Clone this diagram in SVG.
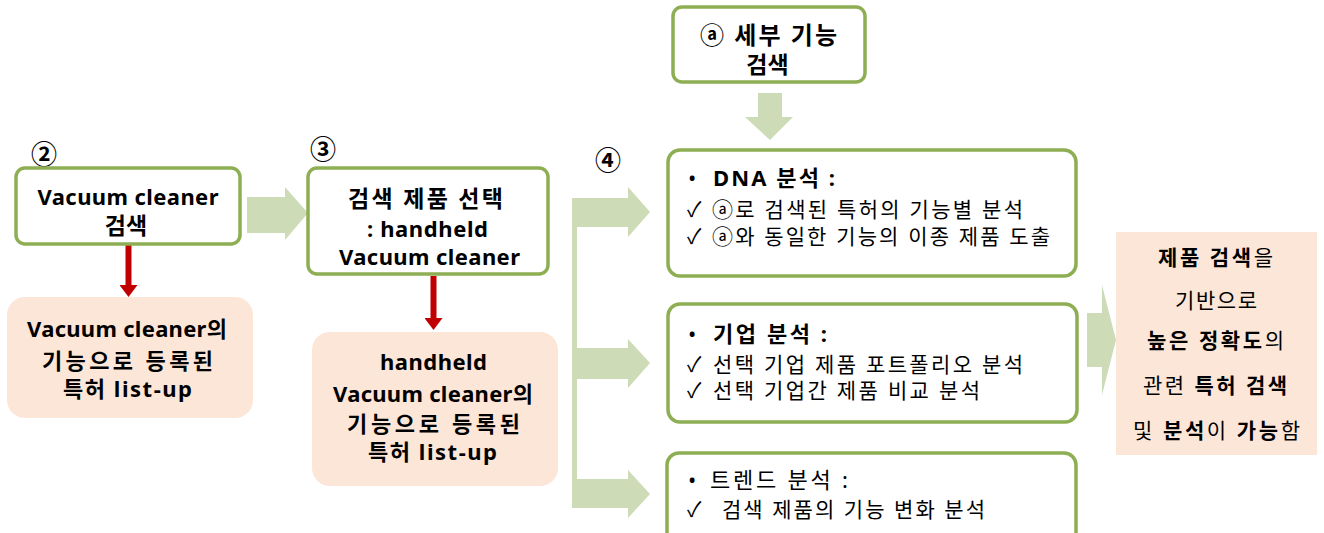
<svg xmlns="http://www.w3.org/2000/svg" width="1324" height="533" viewBox="0 0 1324 533">
<defs>
<style>
.t{font-family:'Noto Sans','Noto Sans CJK KR',sans-serif;fill:#000}
.b{font-weight:bold}
.c{text-anchor:middle}
.box{fill:#fff;stroke:#8DAE53;stroke-width:3.5}
.peach{fill:#FCE6D8;stroke:none}
.garrow{fill:#CDDCB7;stroke:none}
.rline{stroke:#C00000;stroke-width:6;fill:none}
.num{font-family:'Noto Sans CJK KR',sans-serif;font-weight:bold;font-size:26px;text-anchor:middle}
</style>
<marker id="rh" viewBox="0 0 12 18" refX="0" refY="9" markerWidth="12" markerHeight="18" markerUnits="userSpaceOnUse" orient="auto">
<path d="M0,0 L12,9 L0,18 Z" fill="#C00000"/>
</marker>
</defs>
<rect width="1324" height="533" fill="#fff"/>

<g id="connectors">
<path class="garrow" d="M247,197 L285,197 L285,187 L308,213 L285,240 L285,233 L247,233 Z"/>
<path class="garrow" d="M758,93 L782,93 L782,117 L793,117 L770,140 L745,117 L758,117 Z"/>
<path class="garrow" d="M572,198 L628,198 L628,187 L650,212 L628,237 L628,227 L577,227 L577,348 L628,348 L628,339 L650,363 L628,388 L628,379 L577,379 L577,479 L628,479 L628,470 L650,494 L628,518 L628,508 L572,508 Z"/>
<path class="garrow" d="M1087,313 L1102,313 L1102,285 L1116,340 L1102,395 L1102,367 L1087,367 Z"/>
<line class="rline" x1="128.5" y1="245" x2="128.5" y2="285" marker-end="url(#rh)"/>
<line class="rline" x1="433.5" y1="276" x2="433.5" y2="318" marker-end="url(#rh)"/>
</g>

<g id="label-2"><text class="num" x="44" y="164">②</text></g>
<g id="label-3"><text class="num" x="323" y="159">③</text></g>
<g id="label-4"><text class="num" x="608" y="170">④</text></g>

<g id="node-search">
<rect class="box" x="16" y="168" width="224" height="76" rx="9"/>
<text class="t b c" x="128" y="205" font-size="22" textLength="181">Vacuum cleaner</text>
<text class="t b c" x="126" y="234" font-size="23">검색</text>
</g>

<g id="node-list1">
<rect class="peach" x="7" y="297" width="246" height="121" rx="18"/>
<text class="t b c" x="127" y="337" font-size="22" textLength="200">Vacuum cleaner의</text>
<text class="t b c" x="127.5" y="369" font-size="22" textLength="171">기능으로 등록된</text>
<text class="t b c" x="127.5" y="397" font-size="22" textLength="129">특허 list-up</text>
</g>

<g id="node-select">
<rect class="box" x="308" y="168" width="240" height="106" rx="9"/>
<text class="t b c" x="425.5" y="207" font-size="23" textLength="155">검색 제품 선택</text>
<text class="t b c" x="427.5" y="237" font-size="22" textLength="121">: handheld</text>
<text class="t b c" x="429.5" y="265" font-size="22" textLength="181">Vacuum cleaner</text>
</g>

<g id="node-list2">
<rect class="peach" x="312" y="332" width="246" height="154" rx="18"/>
<text class="t b c" x="433.5" y="370" font-size="22" textLength="107">handheld</text>
<text class="t b c" x="433" y="402" font-size="22" textLength="200">Vacuum cleaner의</text>
<text class="t b c" x="433.5" y="432" font-size="22" textLength="173">기능으로 등록된</text>
<text class="t b c" x="432.5" y="460" font-size="22" textLength="129">특허 list-up</text>
</g>

<g id="node-detail">
<rect class="box" x="673" y="7" width="192" height="75" rx="9"/>
<text class="t b c" x="768.5" y="44" font-size="24" textLength="137">ⓐ 세부 기능</text>
<text class="t b c" x="767.5" y="73" font-size="23">검색</text>
</g>

<g id="node-dna">
<rect class="box" x="668" y="150" width="408" height="126" rx="12"/>
<text class="t" font-size="22"><tspan x="688" y="186">•</tspan><tspan x="713" y="186" font-weight="bold" textLength="122">DNA 분석 :</tspan></text>
<text class="t" font-size="21"><tspan x="687" y="217">✓</tspan><tspan x="712" y="217" textLength="311">ⓐ로 검색된 특허의 기능별 분석</tspan></text>
<text class="t" font-size="21"><tspan x="687" y="244">✓</tspan><tspan x="712" y="244" textLength="338">ⓐ와 동일한 기능의 이종 제품 도출</tspan></text>
</g>

<g id="node-company">
<rect class="box" x="668" y="304" width="409" height="118" rx="12"/>
<text class="t" font-size="22"><tspan x="688" y="342">•</tspan><tspan x="713" y="342" font-weight="bold" textLength="114">기업 분석 :</tspan></text>
<text class="t" font-size="21"><tspan x="687" y="372">✓</tspan><tspan x="713" y="372" textLength="310">선택 기업 제품 포트폴리오 분석</tspan></text>
<text class="t" font-size="21"><tspan x="687" y="398">✓</tspan><tspan x="713" y="398" textLength="267">선택 기업간 제품 비교 분석</tspan></text>
</g>

<g id="node-trend">
<rect class="box" x="667" y="453" width="409" height="100" rx="12"/>
<text class="t" font-size="22"><tspan x="688" y="488">•</tspan><tspan x="710" y="488" textLength="138">트렌드 분석 :</tspan></text>
<text class="t" font-size="21"><tspan x="687" y="517">✓</tspan><tspan x="722" y="517" textLength="263">검색 제품의 기능 변화 분석</tspan></text>
</g>

<g id="node-result">
<rect class="peach" x="1116" y="232" width="201" height="223"/>
<text class="t c" x="1215.5" y="265" font-size="21" textLength="115"><tspan font-weight="bold">제품 검색</tspan>을</text>
<text class="t c" x="1216" y="308" font-size="21" textLength="82">기반으로</text>
<text class="t c" x="1215.5" y="348" font-size="21" textLength="137"><tspan font-weight="bold">높은 정확도</tspan>의</text>
<text class="t c" x="1215" y="393" font-size="21" textLength="144">관련 <tspan font-weight="bold">특허 검색</tspan></text>
<text class="t c" x="1216.5" y="438" font-size="21" textLength="167">및 <tspan font-weight="bold">분석</tspan>이 <tspan font-weight="bold">가능</tspan>함</text>
</g>
</svg>
